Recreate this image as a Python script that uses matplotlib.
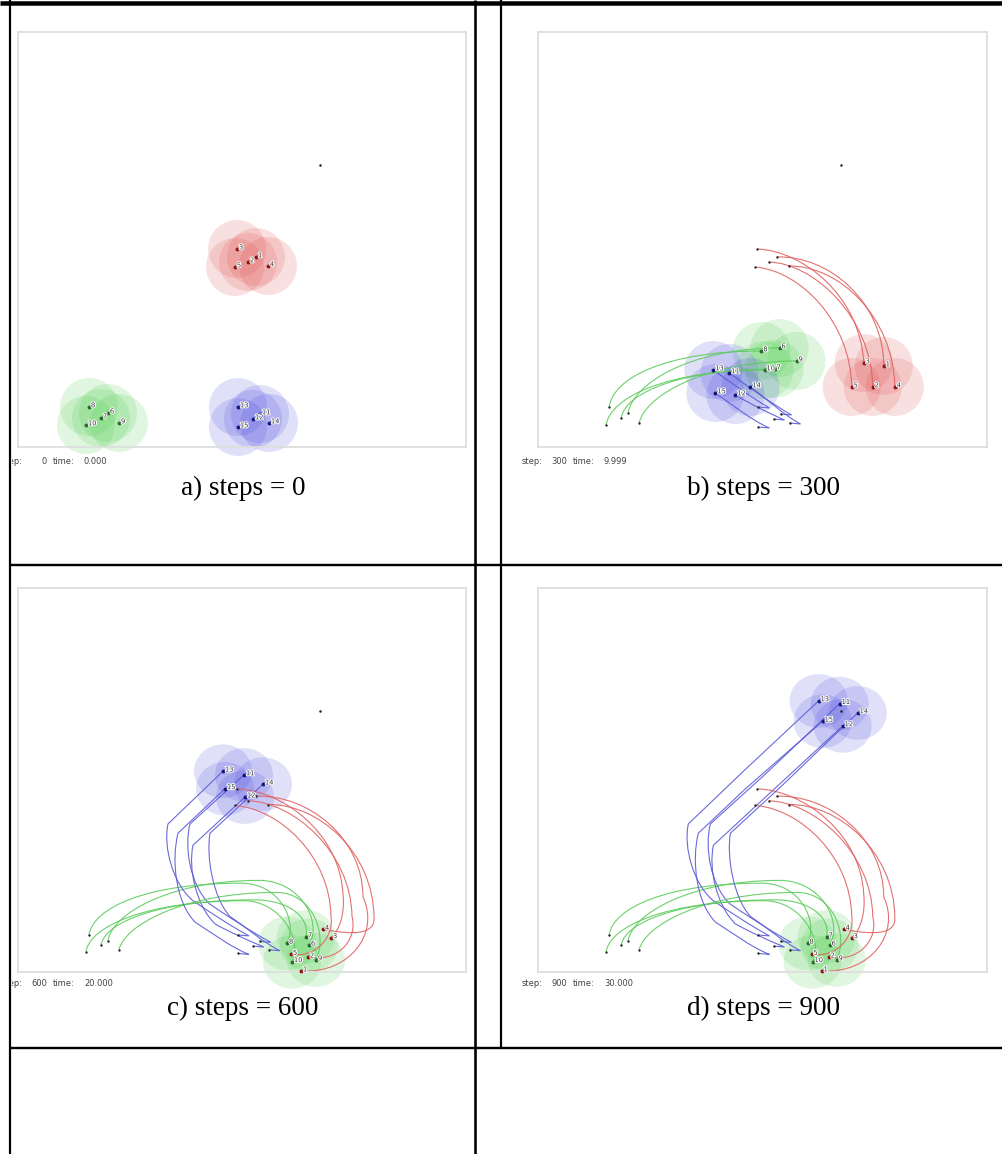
import matplotlib
matplotlib.use("Agg")
import matplotlib.pyplot as plt
from matplotlib.path import Path
from matplotlib.patches import PathPatch, Ellipse
from matplotlib.transforms import Bbox, TransformedBbox
import matplotlib.patheffects as pe

W, H = 1002, 1154
ARENA_W, ARENA_H = 448, 415

# ---------------------------------------------------------------- data
red_ids = ["1", "2", "3", "4", "5"]
green_ids = ["6", "7", "8", "9", "10"]
blue_ids = ["11", "12", "13", "14", "15"]

# agent positions (arena units, y up) at steps 0 / 300 / 600 / 900
red_step0 = [(238, 190), (230, 185), (219, 198), (250, 181), (217, 180)]
green_step0 = [(90, 34), (83, 29), (71, 40), (101, 24), (68, 22)]
blue_step0 = [(242, 33), (235, 28), (220, 40), (251, 24), (220, 20)]

red_step300 = [(345, 81), (334, 60), (325, 84), (356, 60), (313, 60)]
green_step300 = [(241, 99), (236, 78), (223, 96), (258, 86), (226, 77)]
blue_step300 = [(191, 74), (197, 52), (175, 77), (212, 60), (177, 54)]

red_step600 = [(283, 1), (290, 16), (313, 37), (305, 46), (273, 19)]
green_step600 = [(291, 29), (288, 38), (269, 31), (298, 13), (274, 11)]
blue_step600 = [(226, 213), (227, 189), (205, 217), (245, 203), (207, 198)]

red_step900 = red_step600
green_step900 = green_step600
blue_step900 = [(301, 290), (304, 266), (280, 293), (319, 280), (284, 271)]

landmark = (302, 282)

# Bezier control points of the trajectories (step 0 -> 300, step 300 -> 600)
red_ctrl_0_300 = [((290, 192), (345, 145)), ((275, 184), (333, 130)),
                  ((265, 196), (322, 150)), ((300, 182), (355, 130)),
                  ((262, 176), (312, 125))]
red_ctrl_300_600 = [((362, 42), (332, -2)), ((340, 35), (320, 10)),
                    ((327, 65), (322, 45)), ((358, 40), (335, 40)),
                    ((316, 40), (300, 15))]
green_ctrl_0_300 = [((94, 62), (150, 99)), ((87, 55), (145, 78)),
                    ((75, 70), (130, 96)), ((106, 50), (165, 86)),
                    ((72, 50), (130, 77))]
green_ctrl_300_600 = [((282, 99), (305, 55)), ((270, 78), (292, 60)),
                      ((262, 96), (280, 55)), ((295, 86), (310, 40)),
                      ((262, 77), (285, 35))]
blue_tail = [(253, 32), (246, 27), (231, 39), (262, 23), (231, 19)]
blue_ctrl_0_300 = [((232, 44), (206, 63)), ((230, 34), (210, 44)),
                   ((212, 50), (190, 66)), ((245, 32), (226, 50)),
                   ((214, 26), (190, 45))]
blue_ctrl_300_600 = [((172, 95), (166, 135)), ((178, 72), (170, 112)),
                     ((155, 95), (145, 135)), ((195, 80), (188, 125)),
                     ((158, 75), (153, 120))]
blue_bend = [(172, 160), (175, 137), (150, 160), (192, 150), (160, 150)]

panel_captions = ["a) steps = 0", "b) steps = 300", "c) steps = 600", "d) steps = 900"]
panel_steps = ["0", "300", "600", "900"]
panel_times = ["0.000", "9.999", "20.000", "30.000"]

# ---------------------------------------------------------------- style
AGENT_R = 29
team_style = {
    "red": dict(face="#e04c4c", line="#e06262", dot="#8c1515"),
    "green": dict(face="#4ccc4c", line="#5ccc5c", dot="#2b662b"),
    "blue": dict(face="#4c4ce0", line="#5a5ad8", dot="#14147a"),
}
teams = {
    "red": dict(ids=red_ids, pos=[red_step0, red_step300, red_step600, red_step900]),
    "green": dict(ids=green_ids, pos=[green_step0, green_step300, green_step600, green_step900]),
    "blue": dict(ids=blue_ids, pos=[blue_step0, blue_step300, blue_step600, blue_step900]),
}


def pt(px):
    return px * 72.0 / 100.0


def curved_path(i, stage, start, ctrl_a, end_a, ctrl_b, end_b):
    verts = [start[i]]
    codes = [Path.MOVETO]
    if stage >= 1:
        verts += [ctrl_a[i][0], ctrl_a[i][1], end_a[i]]
        codes += [Path.CURVE4] * 3
    if stage >= 2:
        verts += [ctrl_b[i][0], ctrl_b[i][1], end_b[i]]
        codes += [Path.CURVE4] * 3
    return Path(verts, codes)


def blue_path(i, stage):
    verts = [blue_step0[i], blue_tail[i],
             blue_ctrl_0_300[i][0], blue_ctrl_0_300[i][1], blue_step300[i]]
    codes = [Path.MOVETO, Path.LINETO] + [Path.CURVE4] * 3
    if stage >= 2:
        verts += [blue_ctrl_300_600[i][0], blue_ctrl_300_600[i][1], blue_bend[i],
                  blue_step600[i]]
        codes += [Path.CURVE4] * 3 + [Path.LINETO]
    if stage >= 3:
        verts += [blue_step900[i]]
        codes += [Path.LINETO]
    return Path(verts, codes)


fig = plt.figure(figsize=(W / 100, H / 100), dpi=100)

# full-figure overlay in pixel units for the table rules and captions
ov = fig.add_axes([0, 0, 1, 1])
ov.set_xlim(0, W)
ov.set_ylim(H, 0)
ov.axis("off")

rules = [((0, W), (2.5, 2.5), 4.5),
         ((10, 10), (0, H), 2.2),
         ((475, 475), (0, H), 2.6),
         ((501, 501), (0, 1048), 2.2),
         ((10, W), (565, 565), 2.4),
         ((10, W), (1048, 1048), 2.4)]
for xs, ys, lw in rules:
    ov.plot(xs, ys, color="black", lw=pt(lw), solid_capstyle="butt")

panel_rects = [(18, 32, 466, 447), (538, 32, 987, 447),
               (18, 588, 466, 972), (538, 588, 987, 972)]
caption_y = [488, 488, 1008, 1008]
info_y = [461, 461, 983, 983]
cell_x = [(11.5, 474), (502.5, W), (11.5, 474), (502.5, W)]
circle_teams = [("red", "green", "blue"), ("red", "green", "blue"),
                ("green", "blue"), ("green", "blue")]

label_fx = [pe.withStroke(linewidth=1.4, foreground="white")]

for k, (l, t, r, b) in enumerate(panel_rects):
    ax = fig.add_axes([l / W, 1 - b / H, (r - l) / W, (b - t) / H])
    ax.set_xlim(0, ARENA_W)
    ax.set_ylim(0, ARENA_H)
    ax.set_xticks([])
    ax.set_yticks([])
    for s in ax.spines.values():
        s.set_color("#dedede")
        s.set_linewidth(pt(1.8))
    stage = k

    # sensing discs
    for team in circle_teams[k]:
        for p in teams[team]["pos"][stage]:
            ax.add_patch(Ellipse(p, 2 * AGENT_R, 2 * AGENT_R, facecolor=team_style[team]["face"],
                                 edgecolor="none", alpha=0.17, zorder=1, clip_on=False))

    # trajectories and start markers
    if stage >= 1:
        for i in range(5):
            rp = curved_path(i, stage, red_step0, red_ctrl_0_300, red_step300,
                             red_ctrl_300_600, red_step600)
            gp = curved_path(i, stage, green_step0, green_ctrl_0_300, green_step300,
                             green_ctrl_300_600, green_step600)
            bp = blue_path(i, stage)
            for path, team in ((rp, "red"), (gp, "green"), (bp, "blue")):
                ax.add_patch(PathPatch(path, facecolor="none", edgecolor=team_style[team]["line"],
                                       lw=0.8, alpha=0.9, zorder=2, clip_on=False))
        for team in teams:
            xs = [p[0] for p in teams[team]["pos"][0]]
            ys = [p[1] for p in teams[team]["pos"][0]]
            ax.plot(xs, ys, "o", color="#222222", ms=1.7, mew=0, zorder=3)

    ax.plot([landmark[0]], [landmark[1]], "o", color="#222222", ms=1.8, mew=0, zorder=3)

    # agents with their numbers
    for team in teams:
        pos = teams[team]["pos"][stage]
        ax.plot([p[0] for p in pos], [p[1] for p in pos], "o",
                color=team_style[team]["dot"], ms=2.8, mew=0, zorder=4, clip_on=False)
        for name, p in zip(teams[team]["ids"], pos):
            ax.annotate(name, xy=p, xytext=(1.4, 1.2), textcoords="offset points",
                        fontsize=4.8, color="#333333", ha="left", va="center",
                        path_effects=label_fx, zorder=5, annotation_clip=False)

    # step / time readout under the arena, clipped to the table cell
    clip = TransformedBbox(Bbox.from_extents(cell_x[k][0] / W, 0, cell_x[k][1] / W, 1),
                           fig.transFigure)
    y = info_y[k]
    pieces = [(l - 16, "step:", "left"), (l + 29, panel_steps[k], "right"),
              (l + 35, "time:", "left"), (l + 66, panel_times[k], "left")]
    for x, s, ha in pieces:
        txt = ov.text(x, y, s, fontsize=6, color="#444444", ha=ha, va="center")
        txt.set_clip_box(clip)
        txt.set_clip_on(True)

    ov.text((l + r) / 2 + 1, caption_y[k], panel_captions[k], fontsize=19.5,
            family="Liberation Serif", ha="center", va="center", color="black")

fig.savefig("out.png", dpi=100)
